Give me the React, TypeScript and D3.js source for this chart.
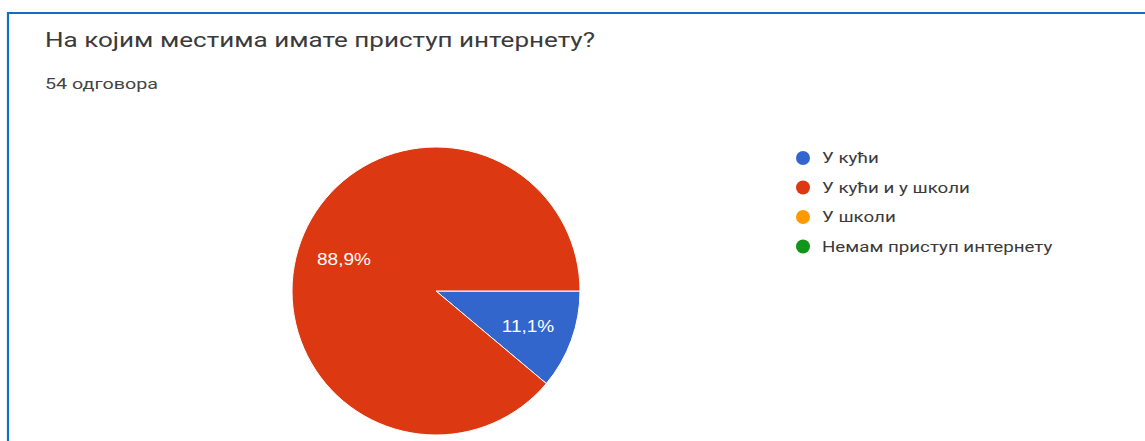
import React from 'react';
import * as d3 from 'd3';

const title = 'На којим местима имате приступ интернету?';
const subtitle = '54 одговора';
const categories = ['У кући', 'У кући и у школи', 'У школи', 'Немам приступ интернету'];
const counts = [6, 48, 0, 0];
const colors = ['#3366cc', '#dc3912', '#ff9900', '#109618'];

const W = 1145;
const H = 441;

export default function App() {
  const cx = 436;
  const cy = 291;
  const r = 144;
  const total = d3.sum(counts);

  const pie = d3.pie<number>()
    .sort(null)
    .startAngle(Math.PI / 2)
    .endAngle(Math.PI / 2 + 2 * Math.PI);
  const arcs = pie(counts);

  const arc = d3.arc<d3.PieArcDatum<number>>().innerRadius(0).outerRadius(r);
  const labelArc = d3.arc<d3.PieArcDatum<number>>().innerRadius(r * 0.68).outerRadius(r * 0.68);

  const fmt = (v: number) => ((v / total) * 100).toFixed(1).replace('.', ',') + '%';

  const legendY = d3.scaleLinear().domain([0, 1]).range([158, 187.5]);

  return (
    <svg
      width={W}
      height={H}
      style={{ position: 'absolute', left: 0, top: 0, background: '#fff', fontFamily: 'Roboto, Arial, sans-serif' }}
    >
      {/* frame */}
      <line x1={7} x2={W} y1={13} y2={13} stroke="#0f6fc6" strokeWidth={2.2} />
      <line x1={8} x2={8} y1={12} y2={H} stroke="#0f6fc6" strokeWidth={2.2} />

      <text x={45} y={47} fontSize={21} fill="#3a3a3a" textLength={550} lengthAdjust="spacingAndGlyphs">
        {title}
      </text>
      <text x={45} y={89} fontSize={14} fill="#444" textLength={113} lengthAdjust="spacingAndGlyphs">
        {subtitle}
      </text>

      <g transform={`translate(${cx},${cy})`}>
        {arcs.filter(d => d.value > 0).map((d, i) => (
          <path key={i} d={arc(d) || ''} fill={colors[d.index]} stroke="#fff" strokeWidth={1} />
        ))}
        {arcs.filter(d => d.value > 0).map((d, i) => {
          const [lx, ly] = labelArc.centroid(d);
          return (
            <g key={i} transform={`translate(${lx},${ly + 2}) scale(1.12,1)`}>
              <text dy="0.35em" textAnchor="middle" fontSize={17} fill="#fff"
                fontFamily="Arial, 'Liberation Sans', sans-serif">
                {fmt(d.value)}
              </text>
            </g>
          );
        })}
      </g>

      <g>
        {categories.map((c, i) => (
          <g key={c} transform={`translate(803,${legendY(i)})`}>
            <circle r={7} fill={colors[i]} />
            <g transform="translate(19,0) scale(1.25,1)">
              <text dy="0.35em" fontSize={15} fill="#3a3a3a">{c}</text>
            </g>
          </g>
        ))}
      </g>
    </svg>
  );
}
